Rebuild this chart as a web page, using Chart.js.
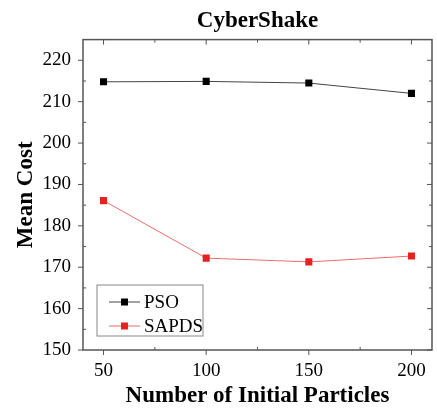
<!DOCTYPE html>
<html>
<head>
<meta charset="utf-8">
<script src="https://cdn.jsdelivr.net/npm/chart.js@4"></script>
<style>
  html, body { margin: 0; padding: 0; background: #fff; }
  #wrap { width: 437px; height: 410px; }
</style>
</head>
<body>
<div id="wrap"><canvas id="lineChart" width="437" height="410"></canvas></div>
<script>
// data
var particles = [50, 100, 150, 200];
var psoCost = [214.8, 214.9, 214.5, 212.0];
var sapdsCost = [186.1, 172.2, 171.3, 172.7];
var xTicks = [50, 100, 150, 200];
var yTicks = [150, 160, 170, 180, 190, 200, 210, 220];

var serif = "'Liberation Serif', 'Times New Roman', serif";

// frame, minor ticks, inside legend
var framePlugin = {
    id: 'frame',
    afterDraw: function (chart) {
        var ctx = chart.ctx;
        var a = chart.chartArea;
        var xs = chart.scales.x, ys = chart.scales.y;
        ctx.save();
        ctx.strokeStyle = '#555';
        ctx.lineWidth = 1.5;
        ctx.strokeRect(a.left, a.top, a.right - a.left, a.bottom - a.top);

        ctx.lineWidth = 1;
        // x ticks: major out at bottom, in at top; minor in
        for (var v = 50; v <= 200; v += 25) {
            var px = xs.getPixelForValue(v);
            var major = v % 50 === 0;
            ctx.beginPath();
            if (major) {
                ctx.moveTo(px, a.bottom); ctx.lineTo(px, a.bottom + 5);
                ctx.moveTo(px, a.top); ctx.lineTo(px, a.top + 5);
            } else {
                ctx.moveTo(px, a.bottom); ctx.lineTo(px, a.bottom - 3);
                ctx.moveTo(px, a.top); ctx.lineTo(px, a.top + 3);
            }
            ctx.stroke();
        }
        for (var w = 150; w <= 220; w += 5) {
            var py = ys.getPixelForValue(w);
            var maj = w % 10 === 0;
            ctx.beginPath();
            if (maj) {
                ctx.moveTo(a.left, py); ctx.lineTo(a.left - 5, py);
                ctx.moveTo(a.right, py); ctx.lineTo(a.right - 5, py);
            } else {
                ctx.moveTo(a.left, py); ctx.lineTo(a.left + 3, py);
                ctx.moveTo(a.right, py); ctx.lineTo(a.right - 3, py);
            }
            ctx.stroke();
        }

        // legend box
        var bx = a.left + 14, by = a.bottom - 65, bw = 106, bh = 51;
        ctx.strokeStyle = '#888';
        ctx.lineWidth = 1;
        ctx.strokeRect(bx, by, bw, bh);
        ctx.font = '19px ' + serif;
        ctx.textBaseline = 'middle';
        chart.data.datasets.forEach(function (ds, i) {
            var ry = by + 17 + i * 24;
            ctx.strokeStyle = ds.borderColor;
            ctx.beginPath();
            ctx.moveTo(bx + 12, ry); ctx.lineTo(bx + 43, ry);
            ctx.stroke();
            ctx.fillStyle = ds.pointBackgroundColor;
            ctx.fillRect(bx + 24, ry - 3.5, 7, 7);
            ctx.fillStyle = '#000';
            ctx.fillText(ds.label, bx + 47, ry + 1);
        });
        ctx.restore();
    }
};

var ctxL = document.getElementById("lineChart").getContext('2d');
var myLineChart = new Chart(ctxL, {
    type: 'line',
    data: {
        datasets: [{
            label: 'PSO',
            data: particles.map(function (p, i) { return { x: p, y: psoCost[i] }; }),
            borderColor: '#444',
            borderWidth: 1,
            pointStyle: 'rect',
            pointRadius: 5,
            pointBackgroundColor: '#000',
            pointBorderColor: '#000',
            pointBorderWidth: 0
        }, {
            label: 'SAPDS',
            data: particles.map(function (p, i) { return { x: p, y: sapdsCost[i] }; }),
            borderColor: '#f26b6b',
            borderWidth: 1,
            pointStyle: 'rect',
            pointRadius: 5,
            pointBackgroundColor: '#e5221f',
            pointBorderColor: '#e5221f',
            pointBorderWidth: 0
        }]
    },
    options: {
        responsive: false,
        animation: false,
        layout: { padding: { left: 0, right: 5, top: 0, bottom: 0 } },
        plugins: {
            legend: { display: false },
            tooltip: { enabled: false },
            title: {
                display: true,
                text: 'CyberShake',
                fullSize: false,
                color: '#000',
                font: { family: serif, size: 23, weight: 'bold' },
                padding: { top: 7, bottom: 5 }
            }
        },
        scales: {
            x: {
                type: 'linear',
                min: 40,
                max: 210,
                afterBuildTicks: function (s) { s.ticks = xTicks.map(function (v) { return { value: v }; }); },
                afterFit: function (s) { s.height = 60; },
                grid: { display: false },
                border: { display: false },
                ticks: { color: '#000', font: { family: serif, size: 19 }, padding: 2 },
                title: {
                    display: true,
                    text: 'Number of Initial Particles',
                    color: '#000',
                    font: { family: serif, size: 23, weight: 'bold' },
                    padding: { top: 0, bottom: 0 }
                }
            },
            y: {
                min: 150,
                max: 225,
                afterBuildTicks: function (s) { s.ticks = yTicks.map(function (v) { return { value: v }; }); },
                afterFit: function (s) { s.width = 83; },
                grid: { display: false },
                border: { display: false },
                ticks: { color: '#000', font: { family: serif, size: 19 }, padding: 4 },
                title: {
                    display: true,
                    text: 'Mean Cost',
                    color: '#000',
                    font: { family: serif, size: 23, weight: 'bold' },
                    padding: { top: 12, bottom: 0 }
                }
            }
        }
    },
    plugins: [framePlugin]
});
</script>
</body>
</html>
